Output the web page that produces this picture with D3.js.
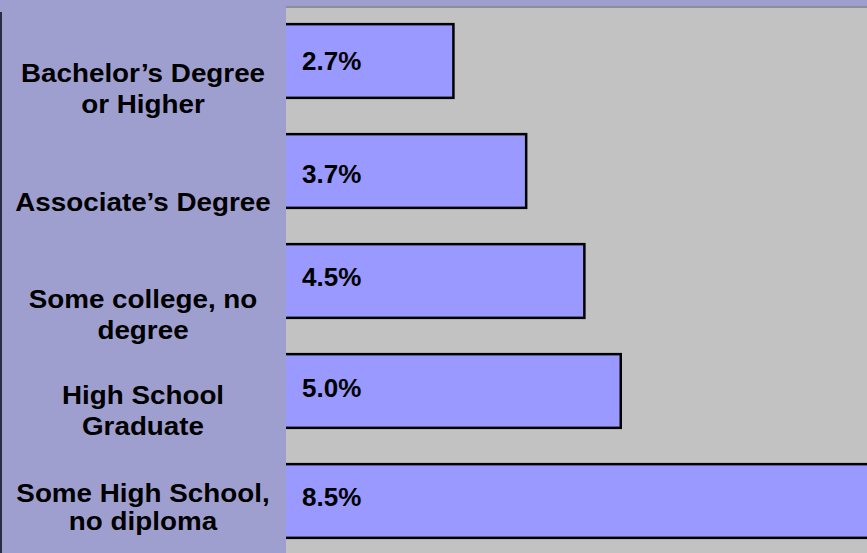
<!DOCTYPE html>
<html>
<head>
<meta charset="utf-8">
<script src="https://cdn.jsdelivr.net/npm/d3@7"></script>
<style>
  body { margin: 0; background: #9f9fcf; }
  svg { display: block; }
</style>
</head>
<body>
<div id="div_chart"></div>
<script>
// Data
var categories = [
    "Bachelor\u2019s Degree\nor Higher",
    "Associate\u2019s Degree",
    "Some college, no\ndegree",
    "High School\nGraduate",
    "Some High School,\nno diploma"
];
var values = [2.7, 3.7, 4.5, 5.0, 8.5];
var valueLabels = ["2.7%", "3.7%", "4.5%", "5.0%", "8.5%"];

// text boxes on the slide sit a bit off the bar centre
var labelNudge = [21, 40, 27, 13, 1];
var lineGap = [31, 31, 31, 31, 28];
var valueNudge = [0, 3, -4, -3, -4];

var svgWidth = 867;
var svgHeight = 553;
var panelWidth = 286;

var svg = d3.select("#div_chart")
    .append("svg")
        .attr("width", svgWidth)
        .attr("height", svgHeight);

// Plot background
svg.append("rect")
    .attr("x", 0)
    .attr("y", 6)
    .attr("width", svgWidth)
    .attr("height", svgHeight - 6)
    .attr("fill", "#c2c2c2");
svg.append("line")
    .attr("x1", 0).attr("x2", svgWidth)
    .attr("y1", 7).attr("y2", 7)
    .attr("stroke", "#8c8c9a")
    .attr("stroke-width", 2);

// Scales
var x = d3.scaleLinear()
    .domain([0, 8])
    .range([257, 839]);

var y = d3.scaleBand()
    .domain(categories)
    .range([6, 556])
    .paddingInner(0.33)
    .paddingOuter(0.165);

// Bars
svg.selectAll("barRect")
    .data(categories)
    .enter()
    .append("rect")
    .attr("x", x(0))
    .attr("y", d => y(d))
    .attr("width", (d, i) => x(values[i]) - x(0))
    .attr("height", y.bandwidth())
    .attr("fill", "#9999ff")
    .attr("stroke", "#000")
    .attr("stroke-width", 2.5);

// Value labels
svg.selectAll("valText")
    .data(categories)
    .enter()
    .append("text")
    .attr("x", 302)
    .attr("y", (d, i) => y(d) + y.bandwidth() / 2 + 9 + valueNudge[i])
    .attr("font-family", "Liberation Sans, Arial, sans-serif")
    .attr("font-weight", "bold")
    .attr("font-size", "26px")
    .attr("fill", "#000")
    .text((d, i) => valueLabels[i]);

// Left label panel
svg.append("rect")
    .attr("x", 0)
    .attr("y", 0)
    .attr("width", panelWidth)
    .attr("height", svgHeight)
    .attr("fill", "#9f9fcf");
svg.append("rect")
    .attr("x", panelWidth)
    .attr("y", 0)
    .attr("width", svgWidth - panelWidth)
    .attr("height", 6)
    .attr("fill", "#9f9fcf");
svg.append("line")
    .attr("x1", 1).attr("x2", 1)
    .attr("y1", 12).attr("y2", svgHeight)
    .attr("stroke", "#2b2b45")
    .attr("stroke-width", 2);

// Category labels
var labels = svg.selectAll("catLabel")
    .data(categories)
    .enter()
    .append("text")
    .attr("transform", (d, i) => "translate(143," + (y(d) + y.bandwidth() / 2 + labelNudge[i]) + ") scale(1.07,1)")
    .attr("text-anchor", "middle")
    .attr("font-family", "Liberation Sans, Arial, sans-serif")
    .attr("font-weight", "bold")
    .attr("font-size", "26px")
    .attr("fill", "#000");

labels.each(function (d, k) {
    d3.select(this).selectAll("tspan")
        .data(d.split("\n"))
        .enter()
        .append("tspan")
        .attr("x", 0)
        .attr("dy", (t, i) => i === 0 ? 0 : lineGap[k])
        .text(t => t);
});
</script>
</body>
</html>
